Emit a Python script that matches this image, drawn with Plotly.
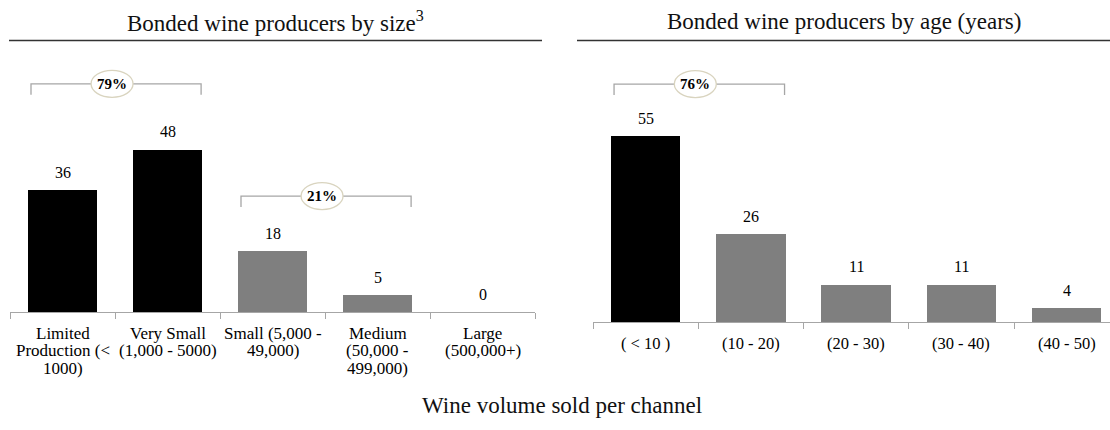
import plotly.graph_objects as go

# ---------------- data ----------------
size_categories = ["Limited<br>Production (<<br>1000)", "Very Small<br>(1,000 - 5000)",
                   "Small (5,000 -<br>49,000)", "Medium<br>(50,000 -<br>499,000)", "Large<br>(500,000+)"]
size_values = [36, 48, 18, 5, 0]
size_highlight = [True, True, False, False, False]
size_groups = [(0, 1, "79%"), (2, 3, "21%")]

age_categories = ["( < 10 )", "(10 - 20)", "(20 - 30)", "(30 - 40)", "(40 - 50)"]
age_values = [55, 26, 11, 11, 4]
age_highlight = [True, False, False, False, False]
age_groups = [(0, 1, "76%")]

title_left = "Bonded wine producers by size<sup>3</sup>"
title_right = "Bonded wine producers by age (years)"
footer = "Wine volume sold per channel"

# ---------------- style ----------------
W, H = 1110, 430
FONT = "Liberation Serif, Times New Roman, serif"
BLACK, GREY, AXIS = "#000000", "#7f7f7f", "#a6a6a6"
PXU = 3.38  # pixels per unit

def px_to_paper_y(py):
    return (H - py) / H

fig = go.Figure()

panels = [
    dict(cats=size_categories, vals=size_values, hl=size_highlight, groups=size_groups,
         xa="x", ya="y", xdom=(10, 535), base=312, bracket_levels=[67.5, 34.3], lab_size=17),
    dict(cats=age_categories, vals=age_values, hl=age_highlight, groups=age_groups,
         xa="x2", ya="y2", xdom=(593, 1110), base=322, bracket_levels=[70.4], lab_size=16.5),
]

annotations = []
shapes = []
for k, p in enumerate(panels):
    n = len(p["vals"])
    idx = list(range(n))
    colors = [BLACK if h else GREY for h in p["hl"]]
    fig.add_trace(go.Bar(x=idx, y=p["vals"], marker=dict(color=colors, line=dict(width=0)),
                         width=0.66, xaxis=p["xa"], yaxis=p["ya"], showlegend=False,
                         hoverinfo="skip"))
    # value labels
    for i, v in enumerate(p["vals"]):
        annotations.append(dict(x=i, y=v, xref=p["xa"], yref=p["ya"], text=str(v),
                                showarrow=False, xanchor="center", yanchor="middle", yshift=18,
                                font=dict(family=FONT, size=16, color="#000")))
    # category labels, one line at a time
    for i, c in enumerate(p["cats"]):
        for j, line in enumerate(c.split("<br>")):
            annotations.append(dict(x=i, y=0, xref=p["xa"], yref=p["ya"], text=line,
                                    showarrow=False, xanchor="center", yanchor="middle",
                                    yshift=-(21 + 17.5 * j),
                                    font=dict(family=FONT, size=p["lab_size"], color="#000")))
    # brackets
    for (g0, g1, lab), lvl in zip(p["groups"], p["bracket_levels"]):
        xl, xr = g0 - 0.30, g1 + 0.32
        drop = 11 / PXU
        line = dict(color=AXIS, width=1.3)
        shapes.append(dict(type="path", xref=p["xa"], yref=p["ya"],
                           path=f"M {xl} {lvl-drop} L {xl} {lvl} L {xr} {lvl} L {xr} {lvl-drop}",
                           line=line))
        xm = (xl + xr) / 2
        shapes.append(dict(type="circle", xref=p["xa"], yref=p["ya"], xsizemode="pixel",
                           ysizemode="pixel", xanchor=xm, yanchor=lvl,
                           x0=-25, x1=17, y0=-13.5, y1=13.5,
                           fillcolor="white", line=dict(color="#d9d4bf", width=1.3)))
        annotations.append(dict(x=xm, y=lvl, xref=p["xa"], yref=p["ya"], text=f"<b>{lab}</b>",
                                showarrow=False, xshift=-4, xanchor="center", yanchor="middle",
                                font=dict(family=FONT, size=15, color="#000")))

    x0px, x1px = p["xdom"]
    step = 105 if k == 0 else 105.25
    rng_hi = -0.5 + (x1px - x0px) / step
    top = 40
    ax = dict(domain=[x0px / W, x1px / W], range=[-0.5, rng_hi], showgrid=False, zeroline=False,
              showline=True, linecolor=AXIS, linewidth=1.3,
              tickvals=[i - 0.5 for i in range(n + 1)], ticks="outside", ticklen=6,
              tickcolor=AXIS, tickwidth=1.3, showticklabels=False, fixedrange=True)
    ay = dict(domain=[px_to_paper_y(p["base"]), px_to_paper_y(top)],
              range=[0, (p["base"] - top) / PXU], visible=False, fixedrange=True)
    if k == 0:
        fig.update_layout(xaxis=dict(ax, anchor="y"), yaxis=dict(ay, anchor="x"))
    else:
        fig.update_layout(xaxis2=dict(ax, anchor="y2"), yaxis2=dict(ay, anchor="x2"))

# titles and rules
for (xa, xb), t in [((9, 542), title_left), ((577, 1110), title_right)]:
    annotations.append(dict(x=(xa + xb) / 2 / W, y=px_to_paper_y(21), xref="paper", yref="paper",
                            text=t, showarrow=False, xanchor="center", yanchor="middle",
                            font=dict(family=FONT, size=23, color="#111")))
    shapes.append(dict(type="line", xref="paper", yref="paper", x0=xa / W, x1=xb / W,
                       y0=px_to_paper_y(40.5), y1=px_to_paper_y(40.5),
                       line=dict(color="#333333", width=1.5)))

annotations.append(dict(x=562 / W, y=px_to_paper_y(405), xref="paper", yref="paper",
                        text=footer, showarrow=False, xanchor="center", yanchor="middle",
                        font=dict(family=FONT, size=23, color="#111")))

fig.update_layout(width=W, height=H, margin=dict(l=0, r=0, t=0, b=0),
                  paper_bgcolor="white", plot_bgcolor="white", bargap=0,
                  annotations=annotations, shapes=shapes, showlegend=False)

fig.write_html("out.html", config={"displayModeBar": False})
